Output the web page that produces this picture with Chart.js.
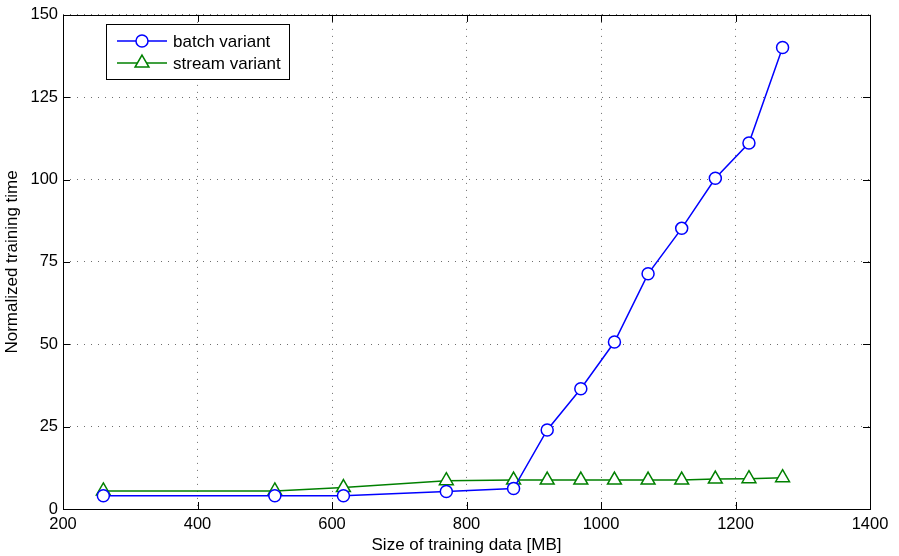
<!DOCTYPE html>
<html>
<head>
<meta charset="utf-8">
<script src="https://cdn.jsdelivr.net/npm/chart.js@4.4.1/dist/chart.umd.min.js"></script>
<style>
    html, body { margin: 0; padding: 0; background: #fff; }
    #wrap { width: 899px; height: 556px; position: relative; }
</style>
</head>
<body>
<div id="wrap"><canvas id="c" width="899" height="556"></canvas></div>
<script>
// Data
const sizesMB = [260, 515, 617, 770, 870, 920, 970, 1020, 1070, 1120, 1170, 1220, 1270];
const batchTime = [4.0, 4.0, 4.0, 5.3, 6.2, 24.0, 36.5, 50.7, 71.4, 85.2, 100.4, 111.1, 140.1];
const streamTime = [5.5, 5.5, 6.5, 8.6, 8.8, 8.8, 8.8, 8.8, 8.8, 8.8, 9.1, 9.2, 9.5];
const xTicks = [200, 400, 600, 800, 1000, 1200, 1400];
const yTicks = [0, 25, 50, 75, 100, 125, 150];

const FONT = "'Liberation Sans', Arial, Helvetica, sans-serif";

function toPoints(ys) {
    return sizesMB.map((x, i) => ({ x: x, y: ys[i] }));
}

// Frame with inward tick marks (MATLAB style) and the legend box
const frameAndLegend = {
    id: 'frameAndLegend',
    afterDraw(chart) {
        const ctx = chart.ctx;
        const a = chart.chartArea;
        const xs = chart.scales.x, ys = chart.scales.y;
        const tl = 7;
        ctx.save();
        ctx.strokeStyle = '#000';
        ctx.lineWidth = 1;
        ctx.beginPath();
        xTicks.forEach(v => {
            const px = Math.round(xs.getPixelForValue(v)) + 0.5;
            ctx.moveTo(px, a.bottom); ctx.lineTo(px, a.bottom - tl);
            ctx.moveTo(px, a.top); ctx.lineTo(px, a.top + tl);
        });
        yTicks.forEach(v => {
            const py = Math.round(ys.getPixelForValue(v)) + 0.5;
            ctx.moveTo(a.left, py); ctx.lineTo(a.left + tl, py);
            ctx.moveTo(a.right, py); ctx.lineTo(a.right - tl, py);
        });
        ctx.stroke();
        ctx.strokeRect(Math.round(a.left) + 0.5, Math.round(a.top) + 0.5,
            Math.round(a.right - a.left), Math.round(a.bottom - a.top));

        // legend
        const bx = 106.5, by = 24.5, bw = 183, bh = 55;
        ctx.fillStyle = '#fff';
        ctx.fillRect(bx, by, bw, bh);
        ctx.strokeRect(bx, by, bw, bh);
        ctx.font = '17px ' + FONT;
        ctx.textBaseline = 'middle';
        chart.data.datasets.forEach((ds, i) => {
            const y = 41 + i * 22;
            ctx.strokeStyle = ds.borderColor;
            ctx.lineWidth = ds.borderWidth;
            ctx.beginPath();
            ctx.moveTo(117, y); ctx.lineTo(167, y);
            ctx.stroke();
            ctx.fillStyle = ds.pointBackgroundColor;
            ctx.strokeStyle = ds.pointBorderColor;
            ctx.lineWidth = ds.pointBorderWidth;
            Chart.helpers.drawPoint(ctx, {
                pointStyle: ds.pointStyle, radius: ds.pointRadius,
                rotation: 0, borderWidth: ds.pointBorderWidth
            }, 142, y);
            ctx.fillStyle = '#000';
            ctx.fillText(ds.label, 173, y + 1);
        });
        ctx.restore();
    }
};

new Chart(document.getElementById('c').getContext('2d'), {
    type: 'line',
    data: {
        datasets: [{
            label: 'batch variant',
            data: toPoints(batchTime),
            borderColor: '#0000ff',
            borderWidth: 1.5,
            pointStyle: 'circle',
            pointRadius: 6,
            pointBorderWidth: 1.5,
            pointBackgroundColor: '#ffffff',
            pointBorderColor: '#0000ff',
            tension: 0
        }, {
            label: 'stream variant',
            data: toPoints(streamTime),
            borderColor: '#008000',
            borderWidth: 1.5,
            pointStyle: 'triangle',
            pointRadius: 8,
            pointBorderWidth: 1.5,
            pointBackgroundColor: '#ffffff',
            pointBorderColor: '#008000',
            tension: 0
        }]
    },
    options: {
        responsive: false,
        animation: false,
        layout: { padding: { top: 10, right: 29, left: 0, bottom: 0 } },
        plugins: {
            legend: { display: false },
            tooltip: { enabled: false }
        },
        scales: {
            x: {
                type: 'linear',
                min: 200,
                max: 1400,
                afterBuildTicks: s => { s.ticks = xTicks.map(v => ({ value: v })); },
                afterFit: s => { s.height = 47; },
                grid: { color: '#6e6e6e', lineWidth: 1, drawTicks: false },
                border: { display: false, dash: [1, 6] },
                ticks: {
                    color: '#000', padding: 6,
                    font: { family: FONT, size: 16.5 },
                    callback: v => String(v)
                },
                title: {
                    display: true,
                    text: 'Size of training data [MB]',
                    color: '#000',
                    padding: { top: 5, bottom: 0 },
                    font: { family: FONT, size: 17 }
                }
            },
            y: {
                type: 'linear',
                min: 0,
                max: 150,
                afterBuildTicks: s => { s.ticks = yTicks.map(v => ({ value: v })); },
                afterFit: s => { s.width = 63; },
                grid: { color: '#6e6e6e', lineWidth: 1, drawTicks: false },
                border: { display: false, dash: [1, 6] },
                ticks: {
                    color: '#000', padding: 5,
                    font: { family: FONT, size: 16.5 },
                    callback: v => String(v)
                },
                title: {
                    display: true,
                    text: 'Normalized training time',
                    color: '#000',
                    padding: { top: 2, bottom: 0 },
                    font: { family: FONT, size: 17 }
                }
            }
        }
    },
    plugins: [frameAndLegend]
});
</script>
</body>
</html>
